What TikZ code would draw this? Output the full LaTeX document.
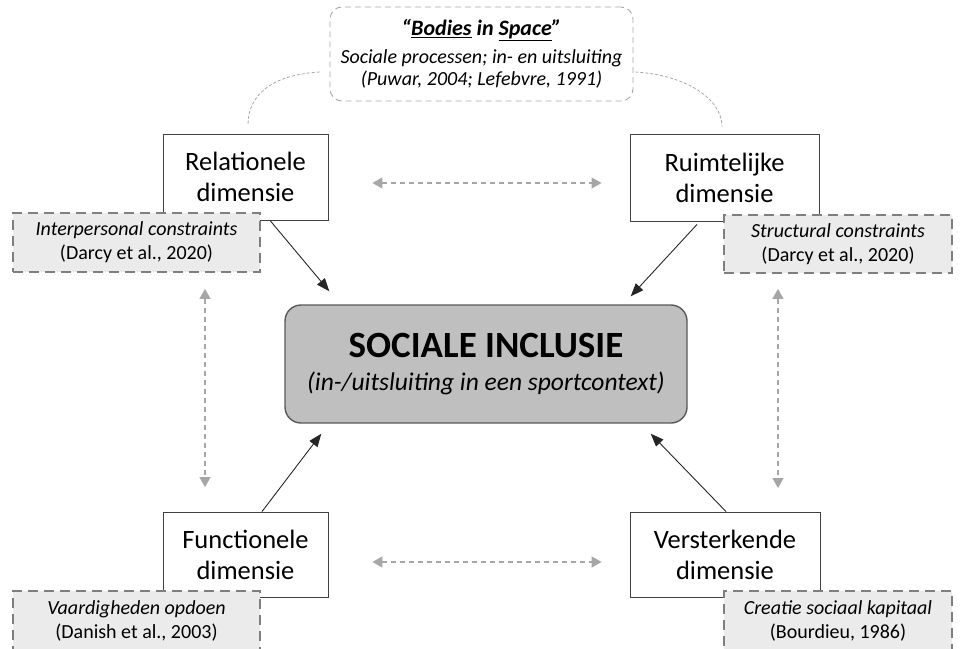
\documentclass[tikz,border=0pt]{standalone}
\usepackage{fontspec}
\setmainfont{Carlito}
\usetikzlibrary{arrows.meta,calc}
\definecolor{notefill}{HTML}{EBEBEB}
\definecolor{notedraw}{HTML}{7F7F7F}
\definecolor{ctrfill}{HTML}{BFBFBF}
\definecolor{ctrdraw}{HTML}{595959}
\definecolor{lightline}{HTML}{A6A6A6}
\newcommand{\myul}[1]{\underline{\smash{#1}\vphantom{y}\hspace{0pt}}}
\begin{document}
\begin{tikzpicture}[x=1pt,y=-1pt,
  dimbox/.style={draw=black!75, line width=0.9pt, fill=white, align=center, inner sep=0pt,
    font=\fontsize{26.5}{31}\selectfont},
  notebox/.style={draw=notedraw, fill=notefill, line width=1.8pt, dash pattern=on 10pt off 6pt,
    align=center, inner sep=0pt, font=\fontsize{20}{24}\selectfont},
  ctrbox/.style={draw=ctrdraw, fill=ctrfill, line width=1.4pt, rounded corners=16pt, align=center,
    inner sep=0pt, minimum width=402pt, minimum height=118pt, font=\fontsize{25.5}{33}\selectfont},
  topbox/.style={draw=lightline, line width=0.9pt, dash pattern=on 6pt off 4pt, rounded corners=12pt,
    align=center, inner sep=0pt, minimum width=303pt, minimum height=94pt, font=\fontsize{20}{22}\selectfont},
  mainarrow/.style={draw=black!85, line width=0.9pt, -{Triangle[length=13pt,width=10pt]}},
  grayarrow/.style={draw=lightline, line width=1.1pt, dash pattern=on 5pt off 4pt,
    {Triangle[length=10pt,width=11pt]}-{Triangle[length=10pt,width=11pt]}},
  arcline/.style={draw=lightline, line width=0.8pt, dash pattern=on 3pt off 2pt}
]
\useasboundingbox (0,0) rectangle (965,648);

% top box
\node[topbox] (top) at (481.5,54) {{\fontsize{22}{22}\selectfont\bfseries\itshape ``\underline{Bodies} in \underline{Space}''}\\[6pt]
  \itshape Sociale processen; in- en uitsluiting\\ \itshape (Puwar, 2004; Lefebvre, 1991)};

% central box
\node[ctrbox] (ctr) at (486,364) {{\fontsize{37}{37}\selectfont\bfseries SOCIALE INCLUSIE}\\
  \itshape (in-/uitsluiting in een sportcontext)};

% dimension boxes
\node[dimbox, minimum width=165pt, minimum height=86pt] (rel) at (245.5,177) {Relationele\\dimensie};
\node[dimbox, minimum width=189pt, minimum height=87pt] (rui) at (724.5,177.5) {Ruimtelijke\\dimensie};
\node[dimbox, minimum width=165pt, minimum height=85pt] (fun) at (245.5,554.5) {Functionele\\dimensie};
\node[dimbox, minimum width=190pt, minimum height=85pt] (ver) at (725,554.5) {Versterkende\\dimensie};

% note boxes
\node[notebox, minimum width=247pt, minimum height=59pt] (intn) at (136.5,242.5)
  {\itshape Interpersonal constraints\\(Darcy et al., 2020)};
\node[notebox, minimum width=228pt, minimum height=58pt] (strn) at (838,244)
  {\itshape Structural constraints\\(Darcy et al., 2020)};
\node[notebox, minimum width=247pt, minimum height=59pt] (vaan) at (136.5,620.5)
  {\itshape Vaardigheden opdoen\\(Danish et al., 2003)};
\node[notebox, minimum width=228pt, minimum height=59pt] (cren) at (838,620.5)
  {\itshape Creatie sociaal kapitaal\\(Bourdieu, 1986)};

% dashed arcs from top box
\coordinate (al1) at ($(top.west)+(-10,18)$);
\coordinate (al2) at ($(rel.north)+(2.5,-9)$);
\coordinate (ar1) at ($(top.east)+(2,18)$);
\coordinate (ar2) at ($(rui.north)+(-2.5,-7)$);
\draw[arcline] (al1) .. controls +(-50,3) and +(0,-28) .. (al2);
\draw[arcline] (ar1) .. controls +(50,3) and +(0,-28) .. (ar2);

% main arrows
\draw[mainarrow] ($(rel.south)+(24.5,0)$) -- ($(ctr.north west)+(45,-13)$);
\draw[mainarrow] ($(rui.south)+(-27.5,3)$) -- ($(ctr.north east)+(-57,-8)$);
\draw[mainarrow] ($(fun.north)+(16.5,0)$) -- ($(ctr.south west)+(37,10)$);
\draw[mainarrow] ($(ver.north)+(1,0)$) -- ($(ctr.south east)+(-37,10)$);

% gray double arrows
\coordinate (ht1) at ($(rel.east)+(44,6)$);
\coordinate (ht2) at ($(rui.west)+(-28,5.5)$);
\coordinate (hb1) at ($(fun.east)+(44,7.5)$);
\coordinate (hb2) at ($(ver.west)+(-28,7.5)$);
\coordinate (vl1) at ($(intn.south)+(68.5,16)$);
\coordinate (vl2) at ($(vaan.north)+(68.5,-103)$);
\coordinate (vr1) at ($(strn.south)+(-60,15)$);
\coordinate (vr2) at ($(cren.north)+(-60,-102)$);
\draw[grayarrow] (ht1) -- (ht2);
\draw[grayarrow] (hb1) -- (hb2);
\draw[grayarrow] (vl1) -- (vl2);
\draw[grayarrow] (vr1) -- (vr2);
\end{tikzpicture}
\end{document}
